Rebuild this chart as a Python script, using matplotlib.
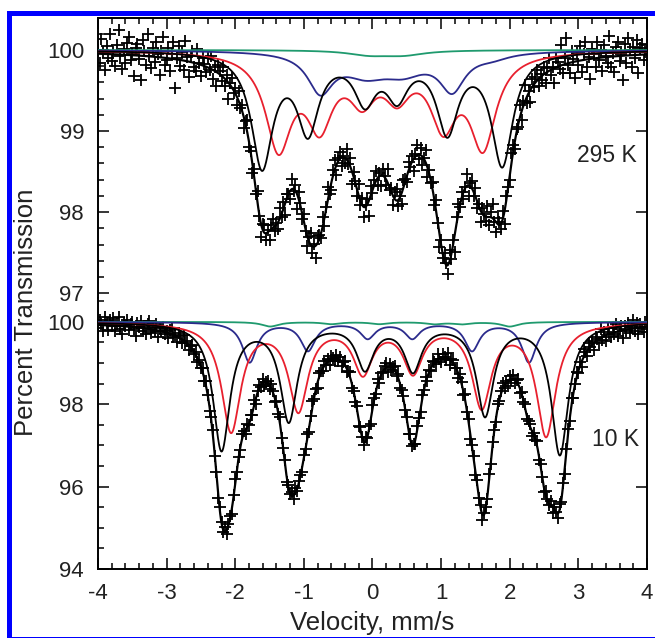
import numpy as np
import matplotlib
matplotlib.use('Agg')
import matplotlib.pyplot as plt
from matplotlib.ticker import MultipleLocator
from matplotlib.patches import Rectangle

plt.rcParams['font.family'] = ['Liberation Sans', 'DejaVu Sans']
plt.rcParams['axes.unicode_minus'] = False

# --- sub-spectrum line parameters (position mm/s, depth %, FWHM) ---
# 295 K
black_295_pos = [-1.61, -0.94, -0.11, 0.36, 1.09, 1.89]
black_295_depth = [1.40, 0.94, 0.56, 0.50, 0.95, 1.38]
black_295_width = 0.38
red_295_pos = [-1.37, -0.77, -0.15, 0.36, 1.03, 1.61]
red_295_depth = [1.15, 0.83, 0.50, 0.46, 0.83, 1.12]
red_295_width = 0.46
blue_295_pos = [-0.76, -0.10, 0.45, 1.16, 1.75]
blue_295_depth = [0.47, 0.24, 0.22, 0.45, 0.06]
blue_295_width = [0.45, 0.80, 0.80, 0.45, 0.60]
green_295_pos = [-0.05, 0.45]
green_295_depth = [0.055, 0.055]
green_295_width = 0.75

# 10 K
black_10_pos = [-2.20, -1.22, -0.11, 0.59, 1.64, 2.73]
black_10_depth = [3.08, 2.35, 1.08, 1.12, 2.22, 3.19]
black_10_width = 0.30
red_10_pos = [-2.06, -1.08, -0.14, 0.59, 1.59, 2.53]
red_10_depth = [2.62, 2.08, 1.16, 1.14, 2.00, 2.72]
red_10_width = 0.34
blue_10_pos = [-1.79, -0.94, -0.07, 0.58, 1.45, 2.28]
blue_10_depth = [0.97, 0.68, 0.38, 0.38, 0.68, 0.97]
blue_10_width = 0.26
green_10_pos = [-1.49, -0.60, 0.10, 0.90, 1.30, 2.00]
green_10_depth = [0.11, 0.05, 0.05, 0.05, 0.05, 0.11]
green_10_width = 0.30

resid_295 = [
    0.05, -0.12, 0.18, 0.02, -0.20, 0.10, -0.05, 0.25, -0.08, 0.03, -0.15, 0.12, 0.30, -0.02, -0.18, 0.07, -0.10, 0.15, 0.22, -0.06,
    0.01, -0.25, 0.09, 0.14, -0.04, -0.30, 0.20, 0.06, -0.11, 0.28, 0.00, -0.14, 0.11, -0.07, 0.19, 0.04, -0.22, 0.08, 0.26, -0.09,
    -0.03, 0.13, -0.16, 0.06, 0.21, -0.35, 0.02, 0.17, -0.08, 0.10, -0.12, 0.24, 0.05, -0.19, 0.08, 0.14, -0.05, -0.10, 0.18, 0.02,
    -0.14, 0.09, 0.03, -0.07, 0.12, -0.02, 0.16, -0.11, 0.05, -0.17, 0.10, 0.04, -0.06, 0.13, -0.09, 0.07, -0.20, 0.02, 0.11, -0.04,
    0.06, -0.10, 0.12, -0.03, 0.08, -0.13, 0.04, 0.15, -0.07, 0.01, -0.11, 0.09, -0.05, 0.14, -0.02, -0.16, 0.07, 0.10, -0.08, 0.03,
    -0.12, 0.05, 0.11, -0.06, 0.02, -0.09, 0.13, -0.04, 0.08, -0.14, 0.06, 0.00, -0.10, 0.12, -0.03, 0.07, -0.18, 0.09, 0.04, -0.07,
    0.10, -0.02, -0.12, 0.06, 0.14, -0.08, 0.03, -0.15, 0.09, 0.05, -0.06, 0.11, -0.10, 0.02, 0.16, -0.04, -0.09, 0.07, 0.12, -0.13,
    0.04, 0.08, -0.11, 0.01, -0.07, 0.13, -0.02, 0.10, -0.16, 0.06, 0.03, -0.08, 0.15, -0.05, 0.09, -0.12, 0.02, 0.07, -0.20, 0.11,
    -0.04, 0.06, 0.12, -0.09, 0.03, -0.14, 0.08, 0.01, -0.06, 0.18, -0.03, 0.05, -0.11, 0.09, 0.14, -0.07, 0.02, -0.13, 0.10, 0.04,
    -0.08, 0.11, -0.02, 0.07, -0.15, 0.03, 0.12, -0.05, 0.08, -0.10, 0.01, 0.16, -0.12, 0.04, -0.03, 0.09, -0.07, 0.13, -0.01, -0.17,
    0.06, -0.04, 0.10, 0.02, -0.11, 0.14, -0.06, 0.05, -0.22, 0.08, 0.12, -0.03, 0.07, -0.09, 0.01, 0.15, -0.13, 0.04, 0.09, -0.05,
    0.11, -0.08, 0.03, -0.14, 0.07, 0.02, -0.05, 0.13, -0.10, 0.06, 0.17, -0.02, -0.12, 0.08, 0.04, -0.07, 0.10, -0.16, 0.05, 0.01,
    -0.06, 0.12, 0.08, -0.10, 0.03, -0.04, 0.14, -0.12, 0.06, 0.20, -0.08, 0.02, -0.15, 0.10, -0.03, 0.07, 0.13, -0.09, 0.04, -0.06,
    0.09, -0.13, 0.05, 0.16, -0.07, 0.02, -0.18, 0.11, 0.06, -0.04, 0.25, -0.10, 0.08, 0.32, -0.02, -0.12, 0.14, 0.04, -0.20, 0.10,
    -0.05, 0.18, -0.14, 0.07, 0.22, -0.09, 0.03, -0.25, 0.12, 0.05, -0.11, 0.20, -0.03, 0.09, -0.17, 0.15, 0.01, -0.08, 0.26, -0.13,
    0.04, -0.19, 0.11, 0.17, -0.06, 0.02, -0.30, 0.14, -0.09, 0.21, 0.06, -0.15, 0.10, -0.04, 0.18, -0.22, 0.08, 0.13, -0.07, 0.03,
    0.12,
]
resid_10 = [
    -0.08, 0.12, 0.03, -0.15, 0.20, 0.06, -0.10, 0.14, -0.02, 0.18, -0.12, 0.05, 0.22, -0.06, -0.18, 0.09, 0.01, 0.15, -0.09, 0.07,
    0.13, -0.04, -0.20, 0.10, 0.02, 0.17, -0.07, 0.04, -0.13, 0.11, 0.19, -0.10, 0.06, -0.03, 0.14, -0.16, 0.08, 0.00, 0.12, -0.05,
    0.04, -0.11, 0.09, 0.15, -0.06, 0.02, -0.14, 0.10, 0.05, -0.08, 0.13, -0.02, 0.07, -0.12, 0.03, 0.11, -0.05, 0.08, -0.10, 0.06,
    -0.03, 0.09, -0.07, 0.12, 0.01, -0.10, 0.06, 0.14, -0.05, 0.03, -0.12, 0.08, 0.02, -0.06, 0.11, -0.09, 0.04, 0.07, -0.13, 0.05,
    0.10, -0.04, 0.02, -0.08, 0.13, 0.05, -0.11, 0.07, -0.02, 0.09, -0.06, 0.12, -0.14, 0.03, 0.08, -0.05, 0.11, -0.09, 0.01, 0.06,
    -0.07, 0.12, 0.04, -0.10, 0.08, -0.03, 0.15, -0.06, 0.02, 0.10, -0.12, 0.05, -0.01, 0.09, -0.08, 0.13, -0.04, 0.06, 0.03, -0.11,
    0.07, -0.02, 0.11, -0.09, 0.04, 0.14, -0.05, 0.01, -0.13, 0.08, 0.03, -0.07, 0.12, -0.04, 0.06, -0.10, 0.09, 0.02, -0.06, 0.10,
    -0.05, 0.08, -0.12, 0.03, 0.11, -0.07, 0.05, 0.13, -0.09, 0.02, -0.04, 0.10, -0.15, 0.06, 0.01, -0.08, 0.12, -0.03, 0.07, -0.11,
    0.09, 0.02, -0.06, 0.14, -0.10, 0.04, -0.02, 0.08, 0.11, -0.13, 0.05, -0.07, 0.03, 0.12, -0.05, 0.09, -0.11, 0.01, 0.07, -0.04,
    0.06, -0.09, 0.13, -0.03, 0.02, -0.12, 0.10, 0.04, -0.07, 0.08, -0.01, 0.15, -0.10, 0.05, -0.06, 0.11, 0.03, -0.08, 0.12, -0.02,
    -0.10, 0.07, 0.01, -0.05, 0.12, -0.13, 0.06, 0.09, -0.04, 0.02, -0.11, 0.10, 0.05, -0.08, 0.14, -0.03, 0.07, -0.12, 0.04, 0.09,
    -0.06, 0.11, -0.02, 0.08, -0.14, 0.05, 0.03, -0.09, 0.13, -0.05, 0.07, 0.01, -0.11, 0.10, -0.04, 0.06, 0.12, -0.08, 0.02, -0.13,
    0.08, -0.03, 0.10, -0.07, 0.04, 0.13, -0.10, 0.06, -0.02, 0.11, -0.06, 0.03, 0.09, -0.12, 0.05, -0.01, 0.14, -0.09, 0.07, 0.02,
    -0.08, 0.12, 0.05, -0.04, 0.10, -0.15, 0.07, 0.02, -0.10, 0.16, -0.03, 0.08, -0.12, 0.04, 0.11, -0.06, 0.18, -0.09, 0.03, 0.13,
    -0.05, 0.09, -0.14, 0.20, 0.04, -0.11, 0.15, -0.02, 0.08, -0.17, 0.12, 0.03, -0.09, 0.22, -0.06, 0.10, -0.13, 0.17, 0.01, -0.08,
    0.14, -0.04, 0.19, -0.12, 0.06, 0.11, -0.18, 0.09, -0.03, 0.16, -0.10, 0.05, 0.21, -0.07, 0.12, -0.15, 0.08, 0.02, -0.11, 0.13,
    -0.04,
]

channel_v = np.linspace(-4, 4, len(resid_295))
v = np.linspace(-4, 4, 1601)


def absorption(x, pos, depth, width):
    width = np.broadcast_to(width, len(pos))
    out = np.zeros_like(x)
    for c, d, w in zip(pos, depth, width):
        out += d / (1 + ((x - c) / (w / 2)) ** 2)
    return out


comp_295 = [
    (black_295_pos, black_295_depth, black_295_width, 'black'),
    (red_295_pos, red_295_depth, red_295_width, '#e8202e'),
    (blue_295_pos, blue_295_depth, blue_295_width, '#2b2b8c'),
    (green_295_pos, green_295_depth, green_295_width, '#1f9a6e'),
]
comp_10 = [
    (black_10_pos, black_10_depth, black_10_width, 'black'),
    (red_10_pos, red_10_depth, red_10_width, '#e8202e'),
    (blue_10_pos, blue_10_depth, blue_10_width, '#2b2b8c'),
    (green_10_pos, green_10_depth, green_10_width, '#1f9a6e'),
]

fig = plt.figure(figsize=(6.55, 6.38), dpi=100)
ax1 = fig.add_axes([0.1496, 0.5329, 0.8382, 0.4389])
ax2 = fig.add_axes([0.1496, 0.1082, 0.8382, 0.4247])

for ax, comps, resid in [(ax1, comp_295, resid_295), (ax2, comp_10, resid_10)]:
    total_fine = np.zeros_like(v)
    total_ch = np.zeros_like(channel_v)
    for pos, depth, width, col in comps:
        total_fine += absorption(v, pos, depth, width)
        total_ch += absorption(channel_v, pos, depth, width)
    ax.plot(channel_v, 100 - total_ch + np.array(resid), '+', color='black',
            ms=9, mew=1.3, zorder=2)
    for pos, depth, width, col in comps[::-1]:
        ax.plot(v, 100 - absorption(v, pos, depth, width), color=col, lw=1.3, zorder=3)
    ax.plot(v, 100 - total_fine, color='black', lw=1.6, zorder=4)
    ax.set_xlim(-4, 4)
    for s in ax.spines.values():
        s.set_linewidth(1.4)
    ax.xaxis.set_major_locator(MultipleLocator(1))
    ax.xaxis.set_minor_locator(MultipleLocator(0.2))
    ax.tick_params(which='both', direction='in', width=1.1, labelsize=16,
                   colors='black', labelcolor='#222222')
    ax.tick_params(which='major', length=8, pad=10)
    ax.tick_params(which='minor', length=4)

ax1.set_ylim(96.94, 100.395)
ax1.yaxis.set_major_locator(MultipleLocator(1))
ax1.yaxis.set_minor_locator(MultipleLocator(0.2))
ax1.spines['bottom'].set_visible(False)
ax1.tick_params(axis='x', which='both', bottom=False, top=True, labelbottom=False)
ax1.tick_params(axis='y', which='major', right=True)
ax1.set_yticks([97, 98, 99, 100])

ax2.set_ylim(94, 100.58)
ax2.yaxis.set_major_locator(MultipleLocator(2))
ax2.yaxis.set_minor_locator(MultipleLocator(0.5))
ax2.spines['top'].set_visible(False)
ax2.tick_params(axis='x', which='both', top=False)
ax2.tick_params(axis='y', which='major', right=True)
ax2.set_xticks(range(-4, 5))

ax1.text(2.98, 98.70, '295 K', fontsize=16.5, color='#222222', va='center', ha='left')
ax2.text(3.2, 97.14, '10 K', fontsize=16.5, color='#222222', va='center', ha='left')

fig.text(0.0397, 0.511, 'Percent Transmission', rotation=90, fontsize=18.5,
         color='#222222', ha='center', va='center')
fig.text(0.5687, 0.0125, 'Velocity, mm/s', fontsize=18.5, color='#222222',
         ha='center', va='baseline')

fig.add_artist(Rectangle((0.0145, -0.001), 1.2, 0.9814, transform=fig.transFigure,
                         fill=False, edgecolor='#0000ff', linewidth=3.6, clip_on=False))

fig.savefig('out.png', dpi=100)
